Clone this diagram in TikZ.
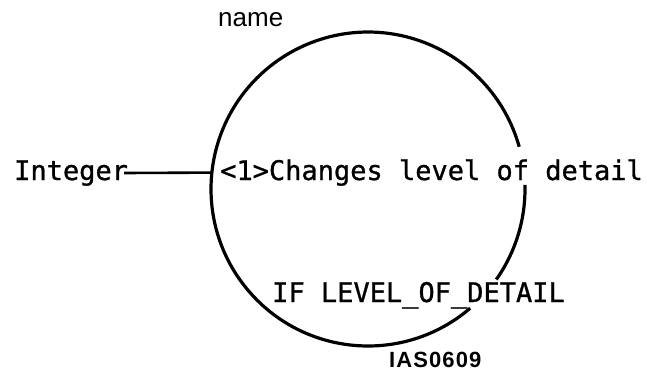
\documentclass[tikz,border=0pt]{standalone}
\usepackage{fontspec}
\newfontfamily\monof[FakeBold=1]{DejaVu Sans Mono}
\newfontfamily\sansf{Liberation Sans}
\newfontfamily\sansbf[LetterSpace=5]{Liberation Sans Bold}
\begin{document}
\begin{tikzpicture}[x=1pt,y=-1pt,
  mono/.style={font=\monof\fontsize{27}{30}\selectfont, inner sep=0pt, anchor=base west},
  sanslbl/.style={font=\sansf\fontsize{26}{30}\selectfont, inner sep=0pt, anchor=base west},
  ring/.style={line width=3.2pt},
  conn/.style={line width=2.6pt}]
\useasboundingbox (0,0) rectangle (647,372);
\coordinate (c) at (368,189);
% circle drawn as two arcs, with gaps where the text crosses it
\draw[ring] ([shift={(-1.5:157)}]c) arc[start angle=-1.5, end angle=35.2, radius=157];
\draw[ring] ([shift={(49.4:157)}]c) arc[start angle=49.4, end angle=344.4, radius=157];
\coordinate (cl) at ([shift={(186.0:157)}]c);
\node[sanslbl] (name) at (218,27) {name};
\node[mono] (int) at (14,180) {Integer};
\node[mono] (desc) at (220,180) {<1>Changes level of detail};
\node[mono] (cond) at (272,302) {IF LEVEL\_OF\_DETAIL};
\node[sanslbl, font=\sansbf\fontsize{22}{26}\selectfont] (id) at (389,367) {IAS0609};
\draw[conn] ([xshift=-4pt,yshift=7pt]int.base east) -- (cl);
\end{tikzpicture}
\end{document}
